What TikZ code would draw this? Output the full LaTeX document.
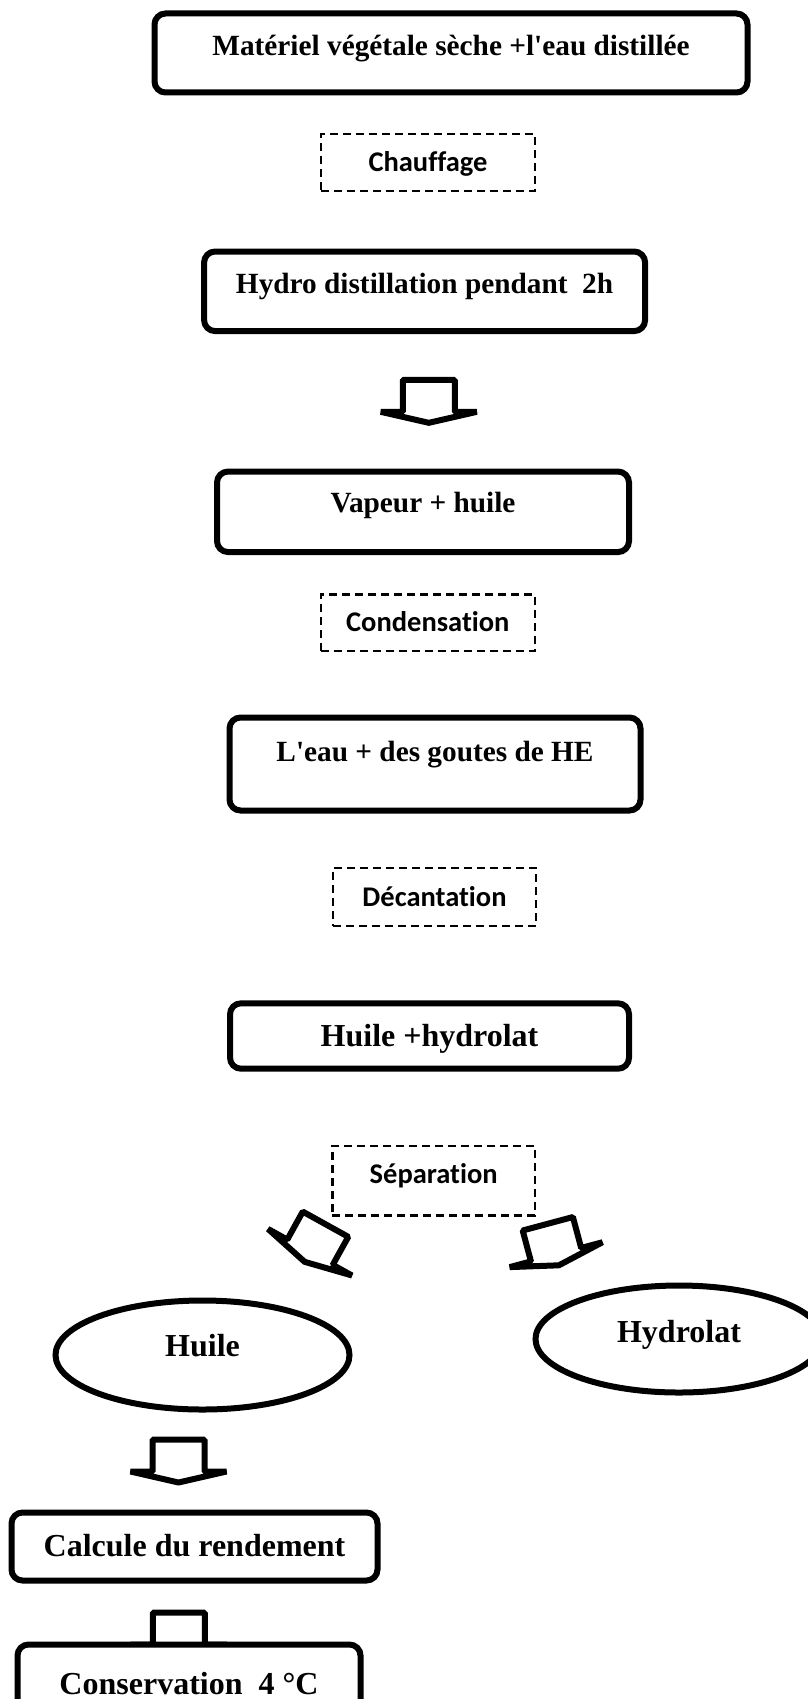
\documentclass[tikz,border=0pt]{standalone}
\usepackage{fontspec}
\setmainfont{Liberation Serif}
\newfontfamily\calfont[Ligatures=NoCommon]{Carlito}
\usepackage{tikz}
\usetikzlibrary{shapes.geometric, calc, backgrounds}
\tikzstyle{block} = [draw, rectangle, rounded corners=11pt, line width=6pt, fill=white, inner sep=0pt, font=\bfseries\fontsize{29.3}{35}\selectfont, text height=18pt, text depth=0pt]
\tikzstyle{bigblock} = [block, font=\bfseries\fontsize{32}{38}\selectfont, text height=20pt]
\tikzstyle{stage} = [draw, rectangle, dash pattern=on 8pt off 5pt, line width=2.5pt, inner sep=0pt, font=\calfont\bfseries\fontsize{28.5}{34}\selectfont, text height=18pt, text depth=0pt]
\tikzstyle{result} = [draw, ellipse, line width=6pt, inner sep=0pt, font=\bfseries\fontsize{32}{38}\selectfont, text height=20pt]
\tikzset{blockdown/.pic={\draw[line width=6pt, line join=bevel, fill=white] (-26,-21.5) -- (26,-21.5) -- (26,10.5) -- (48,10.5) -- (0,21.5) -- (-48,10.5) -- (-26,10.5) -- cycle;}}
\def\q{\textquotesingle}

\begin{document}
\begin{tikzpicture}[x=1pt, y=-1pt]
		\useasboundingbox (0,0) rectangle (808,1699);
		\node[block, minimum width=593, minimum height=79, text depth=12pt] (mat) at (451,53) {Mat\'eriel v\'eg\'etale s\`eche +l\q eau distill\'ee};
		\node[stage, minimum width=214, minimum height=57] (chauf) at (428,162.5) {Chauffage};
		\node[block, minimum width=441, minimum height=79.6, text depth=13pt] (hydro) at (424.6,291.3) {Hydro distillation pendant~ 2h};
		\node[block, minimum width=412, minimum height=80.5, text depth=16pt] (vapeur) at (423,511.8) {Vapeur + huile};
		\node[stage, minimum width=214, minimum height=56.4] (conden) at (427.8,622.8) {Condensation};
		\node[block, minimum width=411, minimum height=93, text depth=24pt] (leau) at (435,764) {L\q eau + des goutes de HE};
		\node[stage, minimum width=203, minimum height=58] (decant) at (434.5,897) {D\'ecantation};
		\node[bigblock, minimum width=399, minimum height=65.4] (huilehyd) at (429.5,1036) {Huile +hydrolat};
		\node[stage, minimum width=202.6, minimum height=69.4, text depth=13pt] (separ) at (433.7,1180.6) {S\'eparation};
		\node[result, minimum width=294, minimum height=109, text depth=18pt] (huile) at (202.5,1355) {Huile};
		\node[result, minimum width=287, minimum height=107, text depth=14pt] (hydrolat) at (679,1339) {Hydrolat};
		\node[bigblock, minimum width=366, minimum height=68] (rendement) at (194.5,1546.5) {Calcule du rendement};
		\node[bigblock, minimum width=343, minimum height=80] (conserv) at (189,1684.5) {Conservation~ 4 \textdegree C};
	%--------------------
		\pic at ($(hydro.south)!.5!(vapeur.north)+(5,0)$) {blockdown};
		\pic[rotate=-29] at ($(separ.south)!.5!(huile.north)+(-3,-14)$) {blockdown};
		\pic[rotate=15] at ($(separ.south)!.5!(hydrolat.north)+(-3,-5)$) {blockdown};
		\pic at ($(huile.south)!.5!(rendement.north)+(-20,0)$) {blockdown};
		\begin{scope}[on background layer]
		\pic at ($(rendement.south)!.5!(conserv.north)+(-13,21.5)$) {blockdown};
		\end{scope}
	\end{tikzpicture}
\end{document}
